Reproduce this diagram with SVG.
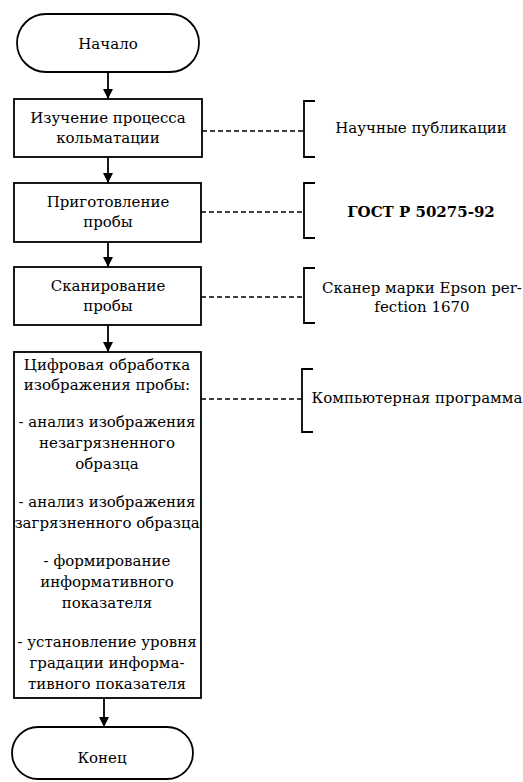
<svg xmlns="http://www.w3.org/2000/svg" width="523" height="782" viewBox="0 0 523 782">
  <style>
    .shape { fill: #fff; stroke: #000; stroke-width: 1.8; }
    .t { font-family: "DejaVu Serif", "Liberation Serif", serif; font-size: 15px; fill: #000; text-anchor: middle; }
    .b { font-weight: bold; }
    .flow { stroke: #000; stroke-width: 1.8; fill: none; marker-end: url(#arrow); }
    .dash { stroke: #000; stroke-width: 1.5; stroke-dasharray: 5 3; fill: none; }
    .bracket { stroke: #000; stroke-width: 1.8; fill: none; }
  </style>
  <defs>
    <marker id="arrow" viewBox="0 0 10 10" refX="10" refY="5" markerWidth="10" markerHeight="10" markerUnits="userSpaceOnUse" orient="auto">
      <path d="M0,0 L10,5 L0,10 Z" fill="#000"/>
    </marker>
  </defs>
  <rect width="523" height="782" fill="#fff"/>

  <g id="start">
    <rect class="shape" x="17" y="14" width="182" height="58" rx="29" ry="29"/>
    <text class="t" x="108" y="49">Начало</text>
  </g>

  <g id="step1">
    <rect class="shape" x="14" y="99" width="188" height="58"/>
    <text class="t" x="108" y="123">Изучение процесса</text>
    <text class="t" x="108" y="143">кольматации</text>
  </g>

  <g id="step2">
    <rect class="shape" x="14" y="183" width="187" height="59"/>
    <text class="t" x="108" y="207">Приготовление</text>
    <text class="t" x="108" y="227">пробы</text>
  </g>

  <g id="step3">
    <rect class="shape" x="14" y="267" width="187" height="58"/>
    <text class="t" x="108" y="291">Сканирование</text>
    <text class="t" x="108" y="311">пробы</text>
  </g>

  <g id="step4">
    <rect class="shape" x="14" y="352" width="187" height="346"/>
    <text class="t" x="107" y="370">Цифровая обработка</text>
    <text class="t" x="107" y="390">изображения пробы:</text>
    <text class="t" x="107" y="427">- анализ изображения</text>
    <text class="t" x="107" y="448">незагрязненного</text>
    <text class="t" x="107" y="469">образца</text>
    <text class="t" x="107" y="507">- анализ изображения</text>
    <text class="t" x="107" y="528">загрязненного образца</text>
    <text class="t" x="107" y="566">- формирование</text>
    <text class="t" x="107" y="587">информативного</text>
    <text class="t" x="107" y="608">показателя</text>
    <text class="t" x="107" y="647">- установление уровня</text>
    <text class="t" x="107" y="668">градации информа-</text>
    <text class="t" x="107" y="689">тивного показателя</text>
  </g>

  <g id="end">
    <rect class="shape" x="12" y="727" width="181" height="52" rx="26" ry="26"/>
    <text class="t" x="102" y="763">Конец</text>
  </g>

  <g id="note1">
    <path class="bracket" d="M315,101 H304 V157 H315"/>
    <text class="t" x="421" y="133">Научные публикации</text>
  </g>

  <g id="note2">
    <path class="bracket" d="M315,183 H304 V238 H315"/>
    <text class="t b" x="421" y="217">ГОСТ Р 50275-92</text>
  </g>

  <g id="note3">
    <path class="bracket" d="M315,268 H304 V323 H315"/>
    <text class="t" x="422" y="293">Сканер марки Epson per-</text>
    <text class="t" x="422" y="312">fection 1670</text>
  </g>

  <g id="note4">
    <path class="bracket" d="M313,369 H302 V432 H313"/>
    <text class="t" x="417" y="403">Компьютерная программа</text>
  </g>

  <g id="connectors">
    <line class="flow" x1="108" y1="72" x2="108" y2="99"/>
    <line class="flow" x1="108" y1="157" x2="108" y2="183"/>
    <line class="flow" x1="108" y1="242" x2="108" y2="267"/>
    <line class="flow" x1="108" y1="325" x2="108" y2="352"/>
    <line class="flow" x1="104" y1="698" x2="104" y2="727"/>
    <line class="dash" x1="202" y1="131" x2="304" y2="131"/>
    <line class="dash" x1="201" y1="212" x2="304" y2="212"/>
    <line class="dash" x1="201" y1="297" x2="304" y2="297"/>
    <line class="dash" x1="201" y1="399" x2="302" y2="399"/>
  </g>
</svg>
